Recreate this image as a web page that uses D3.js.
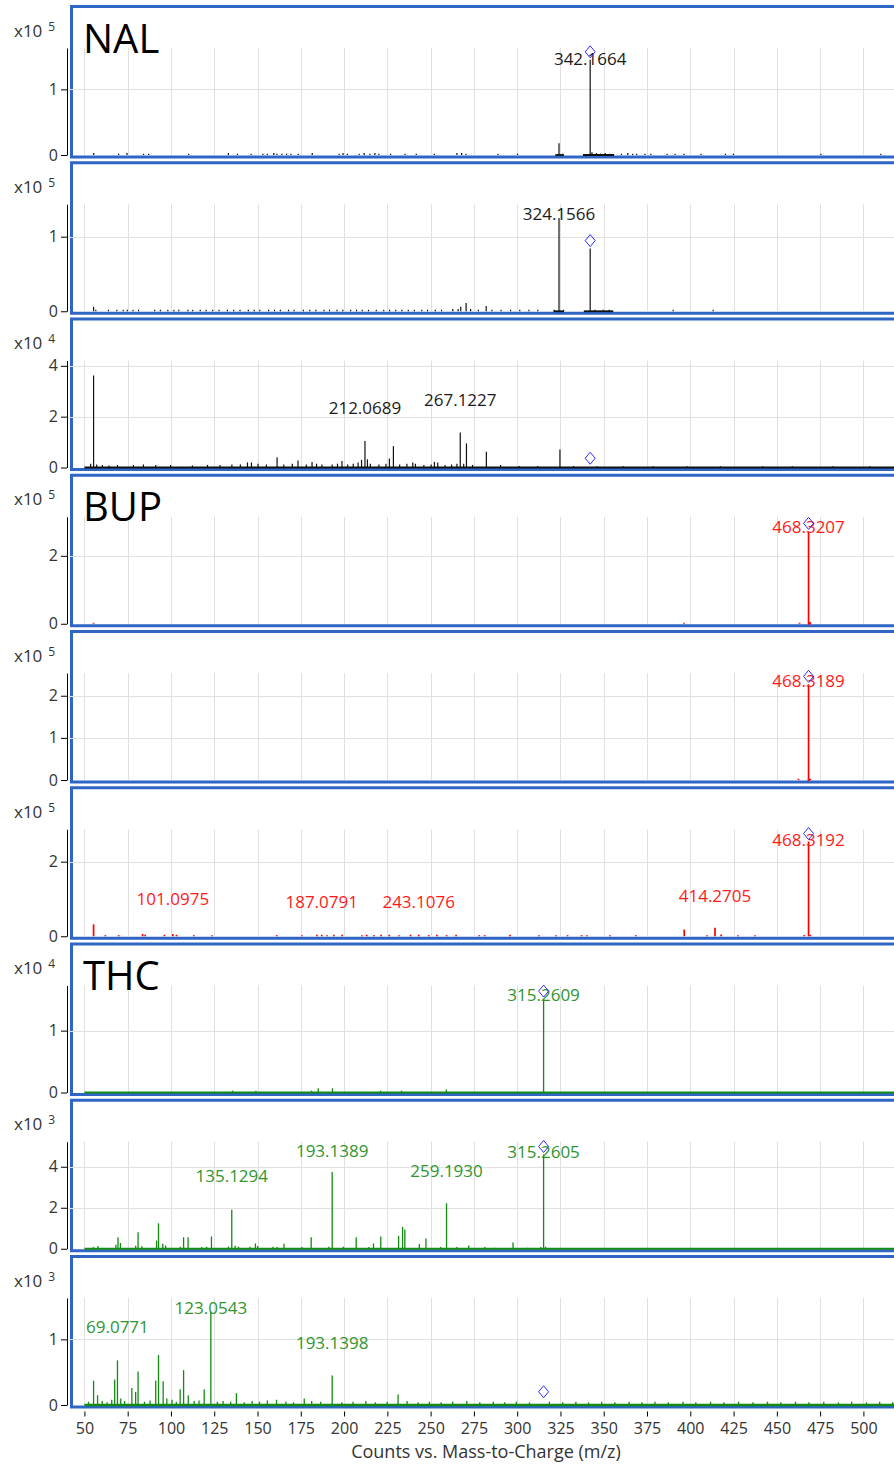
<!DOCTYPE html>
<html>
<head>
<meta charset="utf-8">
<script src="https://d3js.org/d3.v7.min.js"></script>
<style>
body { margin: 0; background: #fff; }
svg text { font-family: "Open Sans", "Noto Sans", sans-serif; }
</style>
</head>
<body>
<svg id="spectra"></svg>
<script>
// ---- data ----
var mzTicks = [50, 75, 100, 125, 150, 175, 200, 225, 250, 275, 300, 325, 350, 375, 400, 425, 450, 475, 500, 525];
var mzTickLabels = [50, 75, 100, 125, 150, 175, 200, 225, 250, 275, 300, 325, 350, 375, 400, 425, 450, 475, 500];

var panelDrug = ["NAL", "NAL", "NAL", "BUP", "BUP", "BUP", "THC", "THC", "THC"];
var panelTitle = ["NAL", "", "", "BUP", "", "", "THC", "", ""];
var panelExp = [5, 5, 4, 5, 5, 5, 4, 3, 3];
var panelYMax = [1.63, 1.435, 4.21, 3.15, 2.54, 2.87, 1.73, 5.22, 1.63];
var panelYTicks = [[0, 1], [0, 1], [0, 2, 4], [0, 2], [0, 1, 2], [0, 2], [0, 1], [0, 2, 4], [0, 1]];

// precursor m/z per drug and the diamond height in each panel
var precursorMz = { NAL: 342.17, BUP: 468.32, THC: 315.26 };
var diamondLevel = [1.45, 0.84, 0.05, 2.72, 2.27, 2.54, 1.51, 4.6, 0.08];

// [m/z, intensity in panel units]
var nal1Peaks = [[55.4,0.03],[69.8,0.02],[74.6,0.03],[84.2,0.02],[87.1,0.02],[110.3,0.02],[133.2,0.03],[138.4,0.02],[146.3,0.02],[153.1,0.02],[155.6,0.02],[159.4,0.03],[161.2,0.02],[164.1,0.02],[166.8,0.02],[169.3,0.02],[173.5,0.02],[181.6,0.03],[197.2,0.02],[199.4,0.03],[201.9,0.02],[208.7,0.02],[211.6,0.03],[214.9,0.02],[217.8,0.03],[220.1,0.02],[226.9,0.02],[235.2,0.02],[241.7,0.02],[252.1,0.02],[265.2,0.03],[267.9,0.03],[270.4,0.02],[288.9,0.02],[300.2,0.02],[324.16,0.18],[326.1,0.02],[342.17,1.45],[343.2,0.04],[345.8,0.03],[348.1,0.02],[350.9,0.03],[353.6,0.02],[360.2,0.02],[363.9,0.03],[366.7,0.02],[369.1,0.02],[373.8,0.02],[377.2,0.02],[386.6,0.02],[391.2,0.02],[396.4,0.02],[406.2,0.02],[420.3,0.02],[424.9,0.02],[475.5,0.02],[510.1,0.02]];
var nal2Peaks = [[55.3,0.06],[56.6,0.02],[63.9,0.02],[68.7,0.02],[72.4,0.02],[74.8,0.02],[78.1,0.02],[81.3,0.02],[90.6,0.02],[93.9,0.02],[98.2,0.02],[101.7,0.02],[104.5,0.02],[109.8,0.02],[112.6,0.02],[116.9,0.02],[120.3,0.02],[124.1,0.02],[127.8,0.02],[132.6,0.02],[136.2,0.02],[139.9,0.02],[144.7,0.02],[148.1,0.02],[151.3,0.02],[156.4,0.02],[159.8,0.02],[163.2,0.02],[167.9,0.02],[171.1,0.02],[176.5,0.02],[180.2,0.02],[183.7,0.02],[188.4,0.02],[191.6,0.02],[195.9,0.02],[199.3,0.02],[203.8,0.02],[207.2,0.02],[210.5,0.02],[214.1,0.02],[218.6,0.02],[222.9,0.02],[226.3,0.02],[229.8,0.02],[233.4,0.02],[237.1,0.02],[240.6,0.02],[244.9,0.02],[248.2,0.02],[252.7,0.02],[256.3,0.02],[262.8,0.03],[265.9,0.03],[267.4,0.06],[270.5,0.11],[273.1,0.03],[277.6,0.02],[282.1,0.07],[285.4,0.02],[290.7,0.02],[296.2,0.02],[301.5,0.02],[306.8,0.02],[311.9,0.02],[321.4,0.02],[324.16,1.25],[326.8,0.02],[342.17,0.84],[344.9,0.02],[349.7,0.02],[353.2,0.02],[390.1,0.02],[413.2,0.02]];
var nal3Peaks = [[53.6,0.15],[55.3,3.62],[57.1,0.12],[60.4,0.1],[64.2,0.08],[69.1,0.1],[78.3,0.1],[84.1,0.12],[91.2,0.1],[99.8,0.1],[112.4,0.08],[121.1,0.1],[128.3,0.1],[135.2,0.12],[140.1,0.12],[144.2,0.2],[146.5,0.2],[150.3,0.15],[155.1,0.12],[161.3,0.4],[165.2,0.12],[170.1,0.15],[173.4,0.28],[178.2,0.12],[181.5,0.22],[184.1,0.15],[187.2,0.12],[193.1,0.12],[196.2,0.15],[198.8,0.26],[202.1,0.12],[205.3,0.15],[208.1,0.2],[210.1,0.3],[212.07,1.04],[213.5,0.32],[215.2,0.15],[220.1,0.12],[224.2,0.15],[226.2,0.35],[228.5,0.84],[232.1,0.12],[236.3,0.15],[239.7,0.2],[241.2,0.15],[246.1,0.1],[250.3,0.12],[252.2,0.22],[254.1,0.2],[258.3,0.1],[262.1,0.12],[265.2,0.15],[267.12,1.38],[269.1,0.15],[270.7,0.95],[274.2,0.1],[282.2,0.62],[290.4,0.1],[301.2,0.06],[311.8,0.06],[324.7,0.71],[332.6,0.06],[346.1,0.05],[361.3,0.05],[378.6,0.05],[398.2,0.05],[417.4,0.05],[441.8,0.05],[458.9,0.05],[482.3,0.05],[503.7,0.05]];
var bup1Peaks = [[55.3,0.03],[396.4,0.03],[463.1,0.03],[468.32,2.72],[469.3,0.05]];
var bup2Peaks = [[462.5,0.03],[468.32,2.27],[469.3,0.03]];
var bup3Peaks = [[55.3,0.32],[62.1,0.03],[69.8,0.03],[83.6,0.06],[85.1,0.04],[96.2,0.04],[101.1,0.06],[103.2,0.04],[113.2,0.03],[123.7,0.03],[161.1,0.03],[175.7,0.03],[184.3,0.04],[187.1,0.04],[190.2,0.03],[194.1,0.04],[198.9,0.04],[210.3,0.03],[213.1,0.04],[217.2,0.03],[221.4,0.04],[226.1,0.04],[231.7,0.03],[238.4,0.04],[243.1,0.04],[248.9,0.03],[253.6,0.04],[259.2,0.03],[264.7,0.04],[278.1,0.03],[281.2,0.03],[295.9,0.04],[312.6,0.03],[322.4,0.03],[329.1,0.03],[337.2,0.03],[340.3,0.03],[353.6,0.03],[368.5,0.03],[396.5,0.18],[409.7,0.03],[414.27,0.23],[417.8,0.05],[427.6,0.03],[437.4,0.03],[465.8,0.03],[468.32,2.54],[469.3,0.04]];
var thc1Peaks = [[135.6,0.03],[149.1,0.03],[181.2,0.03],[185.1,0.07],[193.3,0.07],[221.1,0.03],[233.2,0.03],[259.1,0.05],[315.26,1.51]];
var thc2Peaks = [[55.2,0.08],[57.9,0.13],[68.2,0.2],[69.4,0.56],[70.8,0.28],[79.6,0.15],[81.0,0.81],[83.2,0.12],[91.7,0.4],[92.8,1.24],[95.3,0.25],[96.9,0.16],[105.4,0.1],[107.3,0.56],[109.9,0.56],[117.8,0.08],[120.6,0.1],[123.4,0.6],[133.2,0.1],[135.13,1.9],[137.1,0.15],[139.0,0.1],[145.6,0.1],[148.8,0.26],[150.1,0.13],[158.9,0.1],[161.4,0.08],[165.3,0.25],[175.6,0.08],[181.0,0.56],[191.2,0.1],[193.14,3.74],[199.6,0.1],[207.0,0.56],[214.3,0.08],[217.0,0.26],[221.2,0.6],[231.5,0.63],[233.8,1.06],[235.1,0.94],[243.5,0.23],[247.3,0.5],[255.8,0.08],[259.19,2.22],[265.1,0.08],[272.0,0.16],[281.3,0.08],[287.0,0.05],[297.6,0.31],[306.0,0.05],[313.6,0.08],[315.26,4.6],[316.4,0.1]];
var thc3Peaks = [[52.4,0.05],[55.3,0.37],[57.6,0.15],[60.3,0.06],[63.1,0.04],[65.8,0.08],[67.5,0.39],[69.1,0.68],[71.0,0.1],[73.2,0.06],[77.4,0.26],[79.6,0.2],[81.0,0.51],[84.7,0.05],[87.9,0.07],[91.2,0.37],[92.8,0.76],[95.5,0.36],[97.6,0.1],[100.6,0.08],[103.1,0.05],[105.3,0.24],[107.3,0.53],[110.0,0.15],[113.4,0.06],[116.2,0.07],[119.2,0.24],[123.05,1.43],[126.8,0.05],[130.1,0.06],[134.5,0.05],[137.8,0.18],[142.3,0.04],[146.9,0.06],[151.2,0.05],[155.7,0.07],[161.0,0.08],[166.4,0.05],[170.8,0.04],[177.0,0.1],[181.3,0.06],[186.5,0.05],[193.14,0.45],[198.7,0.04],[205.2,0.05],[212.6,0.06],[218.1,0.04],[224.9,0.05],[231.2,0.16],[236.4,0.06],[242.8,0.04],[249.3,0.05],[256.1,0.04],[262.7,0.05],[270.9,0.06],[278.4,0.04],[286.2,0.05],[292.8,0.04],[299.5,0.05],[307.1,0.04],[318.6,0.05],[326.3,0.04],[333.9,0.05],[341.2,0.04],[348.8,0.05],[356.4,0.04],[364.7,0.05],[372.1,0.04],[379.6,0.05],[387.3,0.04],[395.8,0.05],[403.2,0.04],[411.7,0.05],[419.4,0.04],[427.9,0.05],[436.2,0.04],[444.6,0.05],[452.3,0.04],[460.8,0.05],[468.5,0.04],[477.1,0.05],[485.6,0.04],[493.2,0.05],[501.8,0.04],[509.4,0.05],[516.9,0.04]];

// m/z ranges where the spectrum runs along zero
var nal1Base = [[322, 327], [338, 356]];
var nal2Base = [[321, 327], [338.5, 355.5]];
var nal3Base = [[50, 525]];
var bup1Base = [[468, 469.5]];
var bup2Base = [[467.8, 469.3]];
var bup3Base = [];
var thc1Base = [[50, 525]];
var thc2Base = [[50, 525]];
var thc3Base = [[50, 525]];

// [m/z label, height of label centre in panel units]
var nal1Labels = [[342.1664, 1.46]];
var nal2Labels = [[324.1566, 1.31]];
var nal3Labels = [[212.0689, 2.34], [267.1227, 2.66]];
var bup1Labels = [[468.3207, 2.85]];
var bup2Labels = [[468.3189, 2.34]];
var bup3Labels = [[101.0975, 1.0], [187.0791, 0.91], [243.1076, 0.91], [414.2705, 1.09], [468.3192, 2.59]];
var thc1Labels = [[315.2609, 1.58]];
var thc2Labels = [[135.1294, 3.53], [193.1389, 4.77], [259.1930, 3.78], [315.2605, 4.73]];
var thc3Labels = [[69.0771, 1.19], [123.0543, 1.48], [193.1398, 0.95]];

var panelPeaks = [nal1Peaks, nal2Peaks, nal3Peaks, bup1Peaks, bup2Peaks, bup3Peaks, thc1Peaks, thc2Peaks, thc3Peaks];
var panelBase = [nal1Base, nal2Base, nal3Base, bup1Base, bup2Base, bup3Base, thc1Base, thc2Base, thc3Base];
var panelLabels = [nal1Labels, nal2Labels, nal3Labels, bup1Labels, bup2Labels, bup3Labels, thc1Labels, thc2Labels, thc3Labels];

// ---- styles ----
var stickColor = { NAL: "#111111", BUP: "#ff0000", THC: "#138a13" };
var stickWidth = { NAL: 1.2, BUP: 1.7, THC: 1.3 };
var labelColor = { NAL: "#1a1a1a", BUP: "#ff1a1a", THC: "#2f952f" };
var frameBlue = "#2f66c6",
    gridGray = "#e0e0e0",
    axisText = "#333333";

var width = 894, height = 1464;
var panelTop0 = 6.5, panelStep = 156.25;

var svg = d3.select("#spectra")
    .attr("width", width)
    .attr("height", height);

var x = d3.scaleLinear().domain([50, 500]).range([84.4, 863.4]);

function px(v) { return Math.round(x(v)) + 0.5; }

var diamond = "M0,-6L5,0L0,6L-5,0Z";

// note: "top" is taken by window.top, so use panelY
for (var i = 0; i < panelPeaks.length; i++) {
    var panelY = panelTop0 + i * panelStep;
    var drug = panelDrug[i];
    var y = d3.scaleLinear().domain([0, panelYMax[i]]).range([panelY + 148.5, panelY + 41.5]);
    var y0 = y(0);

    var g = svg.append("g").attr("class", "panel");

    // frame
    g.append("rect")
        .attr("x", 71.5).attr("y", panelY)
        .attr("width", 900).attr("height", 150.5)
        .attr("fill", "none")
        .attr("stroke", frameBlue)
        .attr("stroke-width", 3);

    // grid
    g.selectAll(".vgrid").data(mzTicks).enter().append("line")
        .attr("class", "vgrid")
        .attr("x1", px).attr("x2", px)
        .attr("y1", y.range()[1]).attr("y2", y0)
        .attr("stroke", gridGray).attr("stroke-width", 1);

    g.selectAll(".hgrid").data(panelYTicks[i].filter(function(d) { return d > 0; })).enter().append("line")
        .attr("class", "hgrid")
        .attr("x1", 68).attr("x2", 900)
        .attr("y1", function(d) { return Math.round(y(d)) + 0.5; })
        .attr("y2", function(d) { return Math.round(y(d)) + 0.5; })
        .attr("stroke", gridGray).attr("stroke-width", 1);

    // y axis
    var yAxisG = g.append("g")
        .attr("transform", "translate(67,0)")
        .call(d3.axisLeft(y).tickValues(panelYTicks[i]).tickSize(6).tickSizeOuter(0).tickPadding(3).tickFormat(d3.format("d")));
    yAxisG.select(".domain").attr("stroke", "#000");
    yAxisG.selectAll(".tick line").attr("stroke", "#000");
    yAxisG.selectAll(".tick text")
        .attr("fill", axisText)
        .style("font-size", "16px");

    // exponent label
    var expText = g.append("text")
        .attr("x", 14).attr("y", panelY + 30)
        .attr("fill", axisText)
        .style("font-size", "17px")
        .text("x10");
    expText.append("tspan")
        .attr("dx", 6).attr("dy", -6)
        .style("font-size", "12px")
        .text(panelExp[i]);

    // baseline runs
    g.selectAll(".base").data(panelBase[i]).enter().append("line")
        .attr("class", "base")
        .attr("x1", function(d) { return x(d[0]); })
        .attr("x2", function(d) { return x(d[1]); })
        .attr("y1", y0).attr("y2", y0)
        .attr("stroke", stickColor[drug])
        .attr("stroke-width", i == 8 ? 2.5 : 1.8);

    // sticks
    g.selectAll(".stick").data(panelPeaks[i]).enter().append("line")
        .attr("class", "stick")
        .attr("x1", function(d) { return x(d[0]); })
        .attr("x2", function(d) { return x(d[0]); })
        .attr("y1", y0)
        .attr("y2", function(d) { return y(d[1]); })
        .attr("stroke", stickColor[drug])
        .attr("stroke-width", stickWidth[drug]);

    // peak labels
    g.selectAll(".plabel").data(panelLabels[i]).enter().append("text")
        .attr("class", "plabel")
        .attr("x", function(d) { return x(d[0]); })
        .attr("y", function(d) { return y(d[1]); })
        .attr("dy", "0.35em")
        .attr("text-anchor", "middle")
        .attr("fill", labelColor[drug])
        .style("font-size", "17px")
        .text(function(d) { return d[0].toFixed(4); });

    // precursor diamond
    g.append("path")
        .attr("d", diamond)
        .attr("transform", "translate(" + x(precursorMz[drug]) + "," + (y(diamondLevel[i]) - 8) + ")")
        .attr("fill", "none")
        .attr("stroke", "#2a2aff")
        .attr("stroke-width", 1);

    if (panelTitle[i]) {
        g.append("text")
            .attr("x", 83).attr("y", panelY + 46)
            .attr("fill", "#000")
            .style("font-size", "40px")
            .text(panelTitle[i]);
    }
}

// bottom m/z axis
var xAxisG = svg.append("g")
    .attr("transform", "translate(0,1411.5)")
    .call(d3.axisBottom(x).tickValues(mzTickLabels).tickSize(5).tickSizeOuter(0).tickPadding(6));
xAxisG.select(".domain").remove();
xAxisG.selectAll(".tick line").attr("stroke", "#000");
xAxisG.selectAll(".tick text")
    .attr("fill", axisText)
    .style("font-size", "16px");

svg.append("text")
    .attr("x", 486).attr("y", 1458)
    .attr("text-anchor", "middle")
    .attr("fill", axisText)
    .style("font-size", "18px")
    .text("Counts vs. Mass-to-Charge (m/z)");
</script>
</body>
</html>
